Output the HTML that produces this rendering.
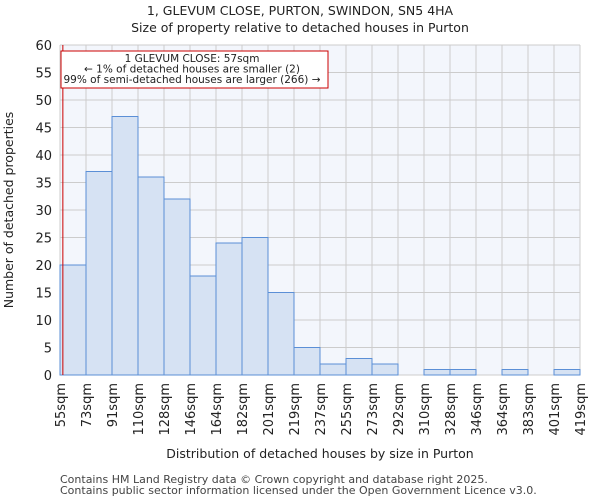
<!DOCTYPE html>
<html><head><meta charset="utf-8"><style>
body{margin:0;background:#fff;font-family:"DejaVu Sans","Liberation Sans",sans-serif}
</style></head><body>
<svg width="600" height="500" xmlns="http://www.w3.org/2000/svg" font-family="DejaVu Sans, Liberation Sans, sans-serif">
<text x="300" y="15" text-anchor="middle" font-size="12.5" fill="#222">1, GLEVUM CLOSE, PURTON, SWINDON, SN5 4HA</text>
<text x="300" y="32" text-anchor="middle" font-size="12.5" fill="#222">Size of property relative to detached houses in Purton</text>
<rect x="60" y="45" width="520" height="330" fill="#f3f6fc"/>
<g id="grid"></g>
<g id="bars"></g>
<g id="axes"></g>
<text x="320" y="458" text-anchor="middle" font-size="12.5" fill="#222">Distribution of detached houses by size in Purton</text>
<text transform="translate(13,210) rotate(-90)" text-anchor="middle" font-size="12.5" fill="#222">Number of detached properties</text>
<text x="60" y="483" font-size="11" fill="#444">Contains HM Land Registry data © Crown copyright and database right 2025.</text>
<text x="60" y="494" font-size="11" fill="#444">Contains public sector information licensed under the Open Government Licence v3.0.</text>
</svg>
<script>
const categories=["55sqm","73sqm","91sqm","110sqm","128sqm","146sqm","164sqm","182sqm","201sqm","219sqm","237sqm","255sqm","273sqm","292sqm","310sqm","328sqm","346sqm","364sqm","383sqm","401sqm","419sqm"];
const counts=[20,37,47,36,32,18,24,25,15,5,2,3,2,0,1,1,0,1,0,1];
const yTicks=[0,5,10,15,20,25,30,35,40,45,50,55,60];
const markerIndex=0.11;
const NS="http://www.w3.org/2000/svg";
const X0=60,X1=580,Y0=375,Y1=45,yMax=60;
const bw=(X1-X0)/counts.length;
const xs=i=>X0+i*bw;
const ys=v=>Y0-(v/yMax)*(Y0-Y1);
function mk(tag,attrs,parent){const e=document.createElementNS(NS,tag);for(const k in attrs)e.setAttribute(k,attrs[k]);parent.appendChild(e);return e;}
const grid=document.getElementById('grid'),bars=document.getElementById('bars'),axes=document.getElementById('axes');
yTicks.forEach(t=>{
 const l=mk('line',{x1:X0,x2:X1,y1:ys(t),y2:ys(t),stroke:'#cccccc','stroke-width':1},grid);
 
 
 const tx=mk('text',{x:X0-8,y:ys(t)+5,'text-anchor':'end','font-size':13,fill:'#222'},axes);
 tx.textContent=t;
 
 
});
categories.forEach((c,i)=>{
 const x=xs(i);
 const l=mk('line',{x1:x,x2:x,y1:Y1,y2:Y0,stroke:'#cccccc','stroke-width':1},grid);
 
 
 const tx=mk('text',{transform:`translate(${x+5},${Y0+8}) rotate(-90)`,'text-anchor':'end','font-size':13,fill:'#222'},axes);
 tx.textContent=c;
 
 
});
counts.forEach((v,i)=>{
 if(v<=0)return;
 const r=mk('rect',{x:xs(i),y:ys(v),width:bw,height:Y0-ys(v),fill:'#d6e2f3',stroke:'#5b8fd6','stroke-width':1},bars);
 
 
});
const mx=xs(markerIndex);
const ml=mk('line',{x1:mx,x2:mx,y1:Y1,y2:Y0,stroke:'#cc0000','stroke-width':1},axes);


const box=mk('rect',{x:61,y:51,width:267,height:37,fill:'#fff',stroke:'#cc0000','stroke-width':1},axes);


["1 GLEVUM CLOSE: 57sqm","← 1% of detached houses are smaller (2)","99% of semi-detached houses are larger (266) →"].forEach((s,i)=>{
 const t=mk('text',{x:192,y:62+i*10.5,'text-anchor':'middle','font-size':10.5,fill:'#222'},axes);
 t.textContent=s;
 
 
});
</script>
</body></html>
